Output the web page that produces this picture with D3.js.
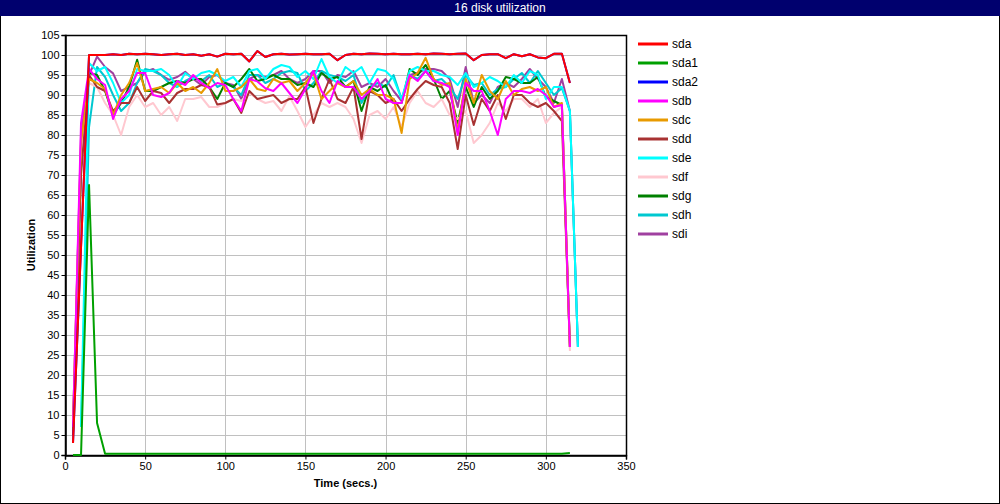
<!DOCTYPE html>
<html><head><meta charset="utf-8">
<script src="https://cdn.jsdelivr.net/npm/d3@7"></script>
<style>
body{margin:0;background:#fff;}
svg{display:block;}
text{font-family:"Liberation Sans",Arial,sans-serif;}
</style></head>
<body><svg id="c" width="1000" height="504"></svg>
<script>
const title = "16 disk utilization";
const xTitle = "Time (secs.)";
const yTitle = "Utilization";
const xTicks = [0,50,100,150,200,250,300,350];
const yTicks = [0,5,10,15,20,25,30,35,40,45,50,55,60,65,70,75,80,85,90,95,100,105];
const times = [5,10,15,20,25,30,35,40,45,50,55,60,65,70,75,80,85,90,95,100,
  105,110,115,120,125,130,135,140,145,150,155,160,165,170,175,180,185,190,195,200,
  205,210,215,220,225,230,235,240,245,250,255,260,265,270,275,280,285,290,295,300,
  305,310,315,320];
const names = ["sda","sda1","sda2","sdb","sdc","sdd","sde","sdf","sdg","sdh","sdi"];
const colors = ["#ff0000","#00a000","#0000ff","#ff00ff","#e89a00","#a83232","#00ffff","#ffc8d0","#008000","#00c8d0","#a040a0"];

const sda = [3,52,100,100,100,100.2,100,100.3,100.2,100.3,
  100.2,100,100.2,100.3,100,100.2,99.8,100.2,99.6,100.3,
  100.2,100.3,98.4,101,99.5,100.2,100.3,100.1,100.2,100.3,
  100.2,100.2,100.3,98.7,100,100.3,100.2,100.4,100.3,100.2,
  100.3,100.2,100.2,100.3,100.2,100.4,100.3,100.2,100.3,100.4,
  98.7,100,100.2,100.2,99.2,100.2,99.7,100.2,99.4,99.2,
  100.3,100.3,93,null];
const sda1 = [0,0,67.5,8,0.3,0.3,0.3,0.3,0.3,0.3,
  0.3,0.3,0.3,0.3,0.3,0.3,0.3,0.3,0.3,0.3,
  0.3,0.3,0.3,0.3,0.3,0.3,0.3,0.3,0.3,0.3,
  0.3,0.3,0.3,0.3,0.3,0.3,0.3,0.3,0.3,0.3,
  0.3,0.3,0.3,0.3,0.3,0.3,0.3,0.3,0.3,0.3,
  0.3,0.3,0.3,0.3,0.3,0.3,0.3,0.3,0.3,0.3,
  0.3,0.3,0.5,null];
const sda2 = [3,52,100,100,100,100.2,100,100.3,100.2,100.3,
  100.2,100,100.2,100.3,100,100.2,99.8,100.2,99.6,100.3,
  100.2,100.3,98.4,101,99.5,100.2,100.3,100.1,100.2,100.3,
  100.2,100.2,100.3,98.7,100,100.3,100.2,100.4,100.3,100.2,
  100.3,100.2,100.2,100.3,100.2,100.4,100.3,100.2,100.3,100.4,
  98.7,100,100.2,100.2,99.2,100.2,99.7,100.2,99.4,99.2,
  100.3,100.3,93,null];
const sdb = [7,83,96.5,94,92.5,84,89,91,95.5,95.5,
  90,89.5,90.5,93.5,92.5,95,93,91.7,93,92.5,
  89,86,94,93.4,91.7,91,93,90.5,88,91.5,
  96,91,88,93.5,92,92,89,91,94,89,
  88,88,95,93.5,96,93.5,93,92,80,93,
  91,91,86,80,89,91,91,90.5,91.5,90,
  87,87.5,27,null];
const sdc = [8,78,94,93,91.5,85,90,93,98,91,
  91.5,92,90.5,93,91,92,90.5,93,96.5,91,
  91,92,94,91.5,91,94,93,93.5,91,93,
  95.5,89,91,93,92,93.5,90,91.5,90,90,
  89,80.5,94,95.5,99.3,94,92.5,93,81,94,
  88,95,91,89,93.5,90,91.5,92,91,92,
  87,88,27,null];
const sdd = [5,70,95,92,91,86,88,88,92,88.5,
  91,90.5,88,90.5,91.5,91.5,92.5,92,87.6,88,
  89,85.5,91,89,89.5,90,88,89,89,92,
  83,89,94,89,88,92,79,91,90,88,
  89,86,89,91.5,93.5,92.5,92,88,76.5,90,
  82.5,89,86,90,84,90,90,88,87,88,
  86,83.5,27,null];
const sde = [null,7,98,96,97,93,88,90,96.5,96,
  96,96.5,95,92,95.5,94,95.5,96,95,93.5,
  94.5,92,96,96.5,94,96.5,97.5,97,94.5,96,
  94,99,94.5,93,97,95.5,97,93,96.5,96,
  94,89,96,97,96,96,95,94.5,92.5,95.5,
  92,93,94.5,93.5,92,95,93,96,95,89,
  92,92,86,27];
const sdf = [6,75,93,92,88,85,80,87,90,87,
  88,85,87,83.5,89,89,89.5,87,87,88,
  89,88.5,90.5,89,88,88.5,86,89.7,86,82,
  85,88,87,88,87,84,78,85,86,84,
  87,82,88,91,88,87,89,85,84,86,
  78,80,83,88,86,89,89,87,89,83,
  85.5,87,26,null];
const sdg = [6,72,95.5,95,91,85,88,92,98.8,91,
  91,92,93,93.5,93,94,94,92,89,93,
  92,94,96.5,93.5,94,95,94,94,92.5,93,
  92,95.5,94,94.5,92,93.5,86,92,91,92.5,
  88,88,96.5,95,97.5,94,89,91,83,92,
  87,92,89,91,94.5,94,93,93,94.5,89.5,
  88.5,87.5,27,null];
const sdh = [null,7,82,97,94.5,90,86,88,93,96.5,
  96,95,93,92,93.5,94.5,93.5,95,92,93,
  92,90,95,95,93,94,95.5,96,95.5,91,
  93,96,95,94.5,93.5,95,88,92,93,92,
  95,89,95,94,96,93.5,94,92,89,95,
  92.5,93,90,91.5,92,94,95.5,93,96,93,
  90,91.7,86,27];
const sdi = [8,80,95,99.6,97,95.4,91,92,93,95.8,
  96.5,95,93.8,94.5,95.8,94,92.5,94.5,95,93,
  92.5,89,94,95,94.5,95,96,94,93,94,
  96,96,93,95,94.5,96,92,93,92,94,
  91,88.5,95,95.5,96.5,96.5,96,94,87,97,
  88,90,88,92,93,92,94,96.5,94,92,
  88,94,86,27];
const seriesValues = [sda,sda1,sda2,sdb,sdc,sdd,sde,sdf,sdg,sdh,sdi];

const svg = d3.select("#c");
const W = 1000, H = 504;
const plot = {left:65, right:626, top:35, bottom:455};

// background & border
svg.append("rect").attr("x",0.5).attr("y",0.5).attr("width",W-1).attr("height",H-1)
  .attr("fill","#fff").attr("stroke","#000").attr("stroke-width",1);
// title bar
svg.append("rect").attr("x",0).attr("y",0).attr("width",W).attr("height",16).attr("fill","#00006e");
svg.append("text").attr("x",W/2).attr("y",12).attr("text-anchor","middle")
  .attr("fill","#fff").attr("font-size",12).text(title);

const x = d3.scaleLinear().domain([0,350]).range([plot.left,plot.right]);
const y = d3.scaleLinear().domain([0,105]).range([plot.bottom,plot.top]);

// grid
const grid = svg.append("g").attr("stroke","#c0c0c0").attr("stroke-width",1);
yTicks.forEach(v=>{ if(v>0 && v<105) grid.append("line").attr("x1",plot.left).attr("x2",plot.right)
  .attr("y1",Math.round(y(v))+0.5).attr("y2",Math.round(y(v))+0.5); });
xTicks.forEach(v=>{ if(v>0 && v<350) grid.append("line").attr("y1",plot.top).attr("y2",plot.bottom)
  .attr("x1",Math.round(x(v))+0.5).attr("x2",Math.round(x(v))+0.5); });

// frame
svg.append("rect").attr("x",plot.left+0.5).attr("y",plot.top+0.5)
  .attr("width",plot.right-plot.left).attr("height",plot.bottom-plot.top)
  .attr("fill","none").attr("stroke","#000").attr("stroke-width",1.5);

// axes
const xAxis = d3.axisBottom(x).tickValues(xTicks).tickSize(4).tickPadding(3);
const yAxis = d3.axisLeft(y).tickValues(yTicks).tickSize(4).tickPadding(2);
const gx = svg.append("g").attr("transform",`translate(0,${plot.bottom+0.5})`).call(xAxis);
const gy = svg.append("g").attr("transform",`translate(${plot.left+0.5},0)`).call(yAxis);
[gx,gy].forEach(g=>{
  g.select(".domain").attr("stroke","#000").attr("stroke-width",1.5);
  g.selectAll(".tick line").attr("stroke","#000");
  g.selectAll(".tick text").attr("fill","#000").attr("font-size",11)
    .attr("font-family","'Liberation Sans',Arial,sans-serif");
});

// axis titles
svg.append("text").attr("x",(plot.left+plot.right)/2).attr("y",487).attr("text-anchor","middle")
  .attr("font-size",11).attr("font-weight","bold").text(xTitle);
svg.append("text").attr("transform",`translate(35,${(plot.top+plot.bottom)/2}) rotate(-90)`)
  .attr("text-anchor","middle").attr("font-size",11).attr("font-weight","bold").text(yTitle);

// lines (drawn in reverse so sda is on top)
const line = d3.line().defined(d=>d.v!==null).x(d=>x(d.t)).y(d=>y(d.v));
const gLines = svg.append("g");
for (let i = names.length-1; i >= 0; i--) {
  const data = times.map((t,k)=>({t:t, v:seriesValues[i][k]}));
  gLines.append("path").datum(data).attr("d",line).attr("fill","none")
    .attr("stroke",colors[i]).attr("stroke-width",2).attr("stroke-linejoin","round");
}

// legend
const lg = svg.append("g");
names.forEach((n,i)=>{
  const yy = 44 + i*19;
  lg.append("line").attr("x1",638).attr("x2",668).attr("y1",yy).attr("y2",yy)
    .attr("stroke",colors[i]).attr("stroke-width",3);
  lg.append("text").attr("x",672).attr("y",yy+4).attr("font-size",12).text(n);
});
</script></body></html>
